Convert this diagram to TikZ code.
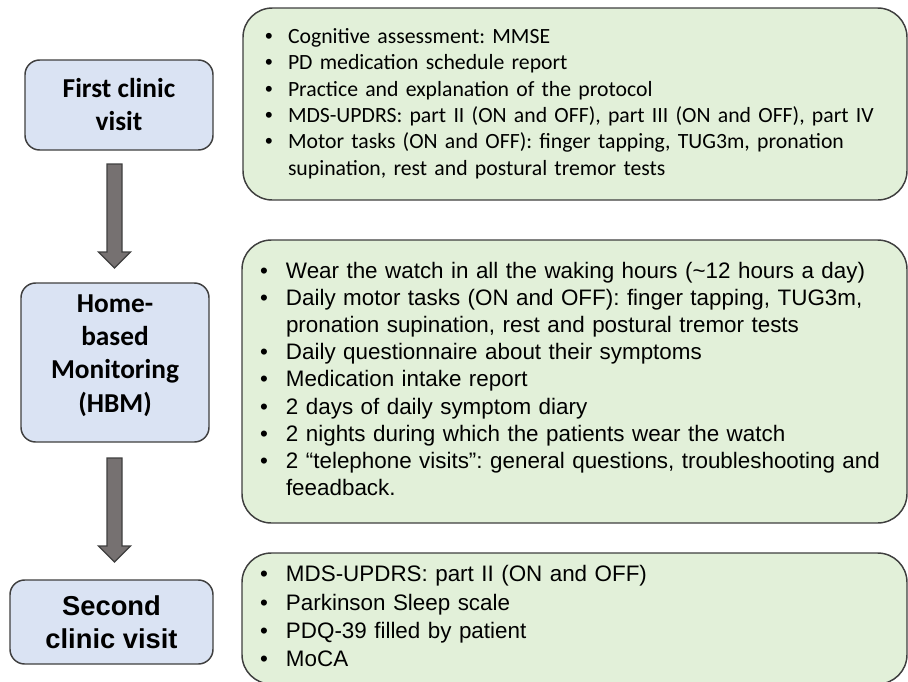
\documentclass[tikz,border=0pt]{standalone}
\usepackage{fontspec}
\setmainfont{Carlito}
\newfontfamily\arialfont{Liberation Sans}
\frenchspacing
\definecolor{stepblue}{HTML}{DAE3F3}
\definecolor{infogreen}{HTML}{E2F0D9}
\definecolor{edgegray}{HTML}{3F3F3F}
\definecolor{arrowgray}{HTML}{767171}

\begin{document}
\begin{tikzpicture}[x=0.75pt, y=-0.75pt,
  stepbox/.style={draw=edgegray, line width=1.1pt, fill=stepblue,
    rounded corners=11pt, inner sep=0pt, align=center,
    font=\fontsize{20.5}{24.75}\selectfont\bfseries},
  steptext/.style={inner sep=0pt, align=center,
    font=\fontsize{20.5}{25}\selectfont\bfseries},
  infobox/.style={draw=edgegray, line width=1.1pt, fill=infogreen,
    rounded corners=22pt, inner sep=0pt, align=left},
  flowarrow/.style={draw=edgegray, line width=1pt, fill=arrowgray}]
\useasboundingbox (0,0) rectangle (908,682);
\clip (0,0) rectangle (908,682);

% phases
\node [stepbox, minimum width=141pt, minimum height=67.5pt] (first) at (119,105)
  {First clinic\\visit};
\node [stepbox, minimum width=141pt, minimum height=119.25pt] (hbm) at (115,362.5) {};
\node [steptext] (hbmtext) at (115,355.5) {Home-\\based\\Monitoring\\(HBM)};
\node [stepbox, minimum width=152.25pt, minimum height=63pt,
  font=\arialfont\fontsize{20.5}{24.75}\selectfont\bfseries] (second) at (111.5,622)
  {Second\\clinic visit};

% contents of each phase
\node [infobox, minimum width=498pt, minimum height=144pt, text width=465pt,
  font=\fontsize{16.3}{19.8}\selectfont] (firstinfo) at (575,104) {%
\begin{tabular}{@{}p{17.25pt}@{}l@{}}
{\arialfont\textbullet} & Cognitive assessment: MMSE\\
{\arialfont\textbullet} & PD medication schedule report\\
{\arialfont\textbullet} & Practice and explanation of the protocol\\
{\arialfont\textbullet} & MDS-UPDRS: part II (ON and OFF), part III (ON and OFF), part IV\\
{\arialfont\textbullet} & Motor tasks (ON and OFF): finger tapping, TUG3m, pronation\\
 & supination, rest and postural tremor tests
\end{tabular}};

\node [infobox, minimum width=498.75pt, minimum height=212.25pt, text width=471.75pt,
  font=\arialfont\fontsize{16.8}{20.4}\selectfont] (hbminfo) at (574.5,381.5) {%
\begin{tabular}{@{}p{19.5pt}@{}l@{}}
\textbullet & Wear the watch in all the waking hours (\textasciitilde12 hours a day)\\
\textbullet & Daily motor tasks (ON and OFF): finger tapping, TUG3m,\\
 & pronation supination, rest and postural tremor tests\\
\textbullet & Daily questionnaire about their symptoms\\
\textbullet & Medication intake report\\
\textbullet & 2 days of daily symptom diary\\
\textbullet & 2 nights during which the patients wear the watch\\
\textbullet & 2 “telephone visits”: general questions, troubleshooting and\\
 & feeadback.
\end{tabular}};

\node [infobox, minimum width=498.75pt, minimum height=98.25pt, text width=471.75pt,
  font=\arialfont\fontsize{16.8}{21.2}\selectfont] (secondinfo) at (574.5,618.5) {%
\begin{tabular}{@{}p{19.5pt}@{}l@{}}
\textbullet & MDS-UPDRS: part II (ON and OFF)\\
\textbullet & Parkinson Sleep scale\\
\textbullet & PDQ-39 filled by patient\\
\textbullet & MoCA
\end{tabular}};

% arrows between the phases
\coordinate (arrowtop1) at (114.5,164);
\coordinate (arrowtop2) at (114.5,458);
\draw [flowarrow] (arrowtop1) ++(-7.5,0) -- ++(15,0) -- ++(0,88) -- ++(8.5,0)
  -- ++(-16,16) -- ++(-16,-16) -- ++(8.5,0) -- cycle;
\draw [flowarrow] (arrowtop2) ++(-7.5,0) -- ++(15,0) -- ++(0,88) -- ++(8.5,0)
  -- ++(-16,16) -- ++(-16,-16) -- ++(8.5,0) -- cycle;

\end{tikzpicture}
\end{document}
